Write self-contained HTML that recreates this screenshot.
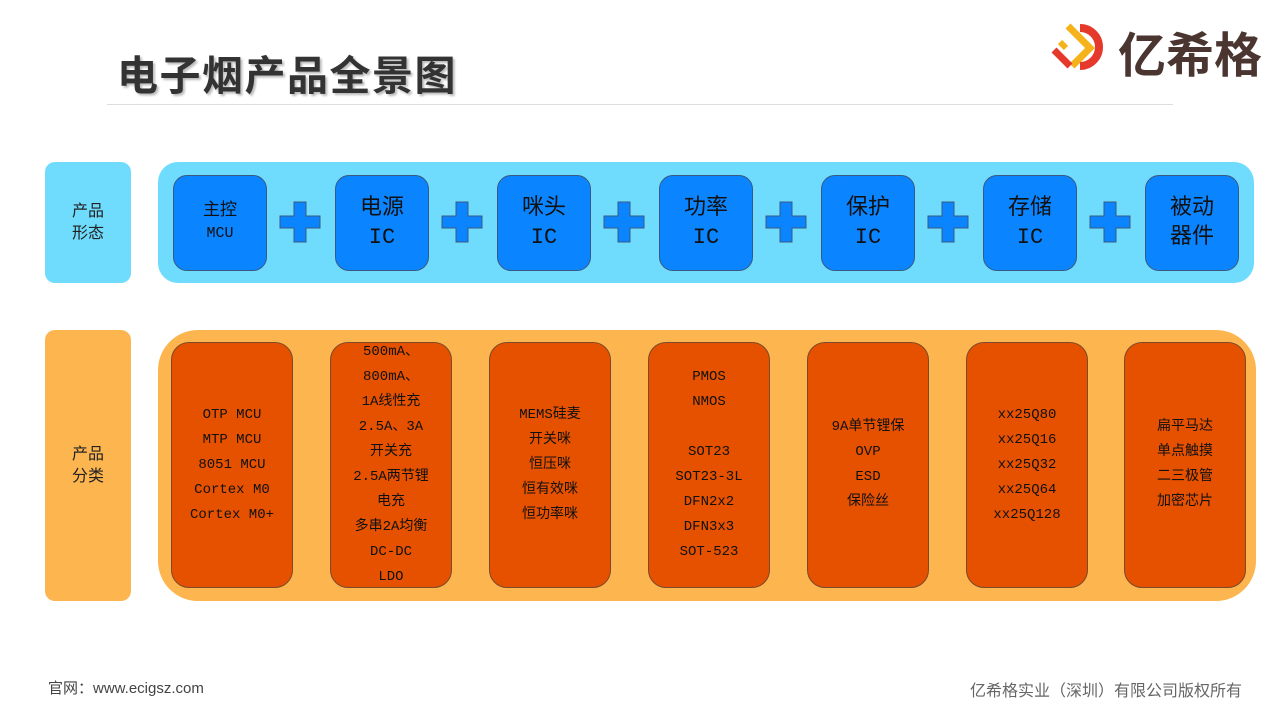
<!DOCTYPE html><html><head><meta charset="utf-8"><style>
body{margin:0;width:1280px;height:720px;background:#fff;position:relative;overflow:hidden;font-family:"Liberation Mono","Noto Sans CJK SC",monospace}
.a{position:absolute}
.t{left:117px;top:42px;font:bold 41px "Liberation Sans","Noto Sans CJK SC",sans-serif;color:#333;text-shadow:2px 2px 2px #bbb;letter-spacing:1.5px}
.lbl{display:flex;align-items:center;justify-content:center;text-align:center;font:16px/22px "Liberation Sans","Noto Sans CJK SC",sans-serif;color:#222;border-radius:10px}
.bb{width:92px;height:94px;background:#0a84ff;border:1px solid #3a5a80;border-radius:14px;display:flex;align-items:center;justify-content:center;text-align:center;color:#111;top:175px}
.ob{width:120px;height:244px;background:#e65100;border:1px solid #7a4a2a;border-radius:18px;top:342px;display:flex;align-items:center;justify-content:center;text-align:center;font-size:14px;line-height:25px;color:#111}
</style></head><body>
<div class="a t">电子烟产品全景图</div>
<div class="a" style="left:107px;top:104px;width:1066px;height:1px;background:#ddd"></div>
<div class="a" style="left:1050px;top:20px;width:66px;height:54px">
<svg width="66" height="54"><path d="M18 6 L40 28 L22 46" stroke="#f5b21b" stroke-width="7" fill="none"/><path d="M4 30 L20 46" stroke="#e53a2b" stroke-width="7"/><path d="M10 22 L16 28" stroke="#f5b21b" stroke-width="6"/><path d="M30 8 A19 19 0 1 1 30 46" stroke="#e53a2b" stroke-width="8" fill="none"/></svg></div>
<div class="a" style="left:1118px;top:16px;font:bold 48px 'Noto Sans CJK SC',sans-serif;color:#4a3530;letter-spacing:0px">亿希格</div>
<div class="a lbl" style="left:45px;top:162px;width:86px;height:121px;background:#6fdcfd">产品<br>形态</div>
<div class="a" style="left:158px;top:162px;width:1096px;height:121px;background:#6fdcfd;border-radius:20px"></div>
<div class="a bb" style="left:173px"><div style="font-size:17px;line-height:22px">主控<br><span style="font-size:15px">MCU</span></div></div>
<div class="a bb" style="left:335px"><div style="font-size:22px;line-height:29px">电源<br>IC</div></div>
<div class="a bb" style="left:497px"><div style="font-size:22px;line-height:29px">咪头<br>IC</div></div>
<div class="a bb" style="left:659px"><div style="font-size:22px;line-height:29px">功率<br>IC</div></div>
<div class="a bb" style="left:821px"><div style="font-size:22px;line-height:29px">保护<br>IC</div></div>
<div class="a bb" style="left:983px"><div style="font-size:22px;line-height:29px">存储<br>IC</div></div>
<div class="a bb" style="left:1145px"><div style="font-size:22px;line-height:29px">被动<br>器件</div></div>
<svg class="a" style="left:0;top:0" width="1280" height="300">
<defs><path id="p" d="M-6 -20 H6 V-6 H20 V6 H6 V20 H-6 V6 H-20 V-6 H-6Z" fill="#0a84ff" stroke="#3a5a80" stroke-width="1"/></defs>
<use href="#p" x="300" y="222"/><use href="#p" x="462" y="222"/><use href="#p" x="624" y="222"/><use href="#p" x="786" y="222"/><use href="#p" x="948" y="222"/><use href="#p" x="1110" y="222"/></svg>
<div class="a lbl" style="left:45px;top:330px;width:86px;height:271px;background:#fcb54f">产品<br>分类</div>
<div class="a" style="left:158px;top:330px;width:1098px;height:271px;background:#fcb54f;border-radius:40px"></div>
<div class="a ob" style="left:171px"><div>OTP MCU<br>MTP MCU<br>8051 MCU<br>Cortex M0<br>Cortex M0+</div></div>
<div class="a ob" style="left:330px"><div>500mA、<br>800mA、<br>1A线性充<br>2.5A、3A<br>开关充<br>2.5A两节锂<br>电充<br>多串2A均衡<br>DC-DC<br>LDO</div></div>
<div class="a ob" style="left:489px"><div>MEMS硅麦<br>开关咪<br>恒压咪<br>恒有效咪<br>恒功率咪</div></div>
<div class="a ob" style="left:648px"><div>PMOS<br>NMOS<br><br>SOT23<br>SOT23-3L<br>DFN2x2<br>DFN3x3<br>SOT-523</div></div>
<div class="a ob" style="left:807px"><div>9A单节锂保<br>OVP<br>ESD<br>保险丝</div></div>
<div class="a ob" style="left:966px"><div>xx25Q80<br>xx25Q16<br>xx25Q32<br>xx25Q64<br>xx25Q128</div></div>
<div class="a ob" style="left:1124px"><div>扁平马达<br>单点触摸<br>二三极管<br>加密芯片</div></div>
<div class="a" style="left:48px;top:677px;font:15px 'Liberation Sans','Noto Sans CJK SC',sans-serif;color:#444">官网：www.ecigsz.com</div>
<div class="a" style="left:970px;top:677px;font:16px 'Liberation Sans','Noto Sans CJK SC',sans-serif;color:#666">亿希格实业（深圳）有限公司版权所有</div>
</body></html>
